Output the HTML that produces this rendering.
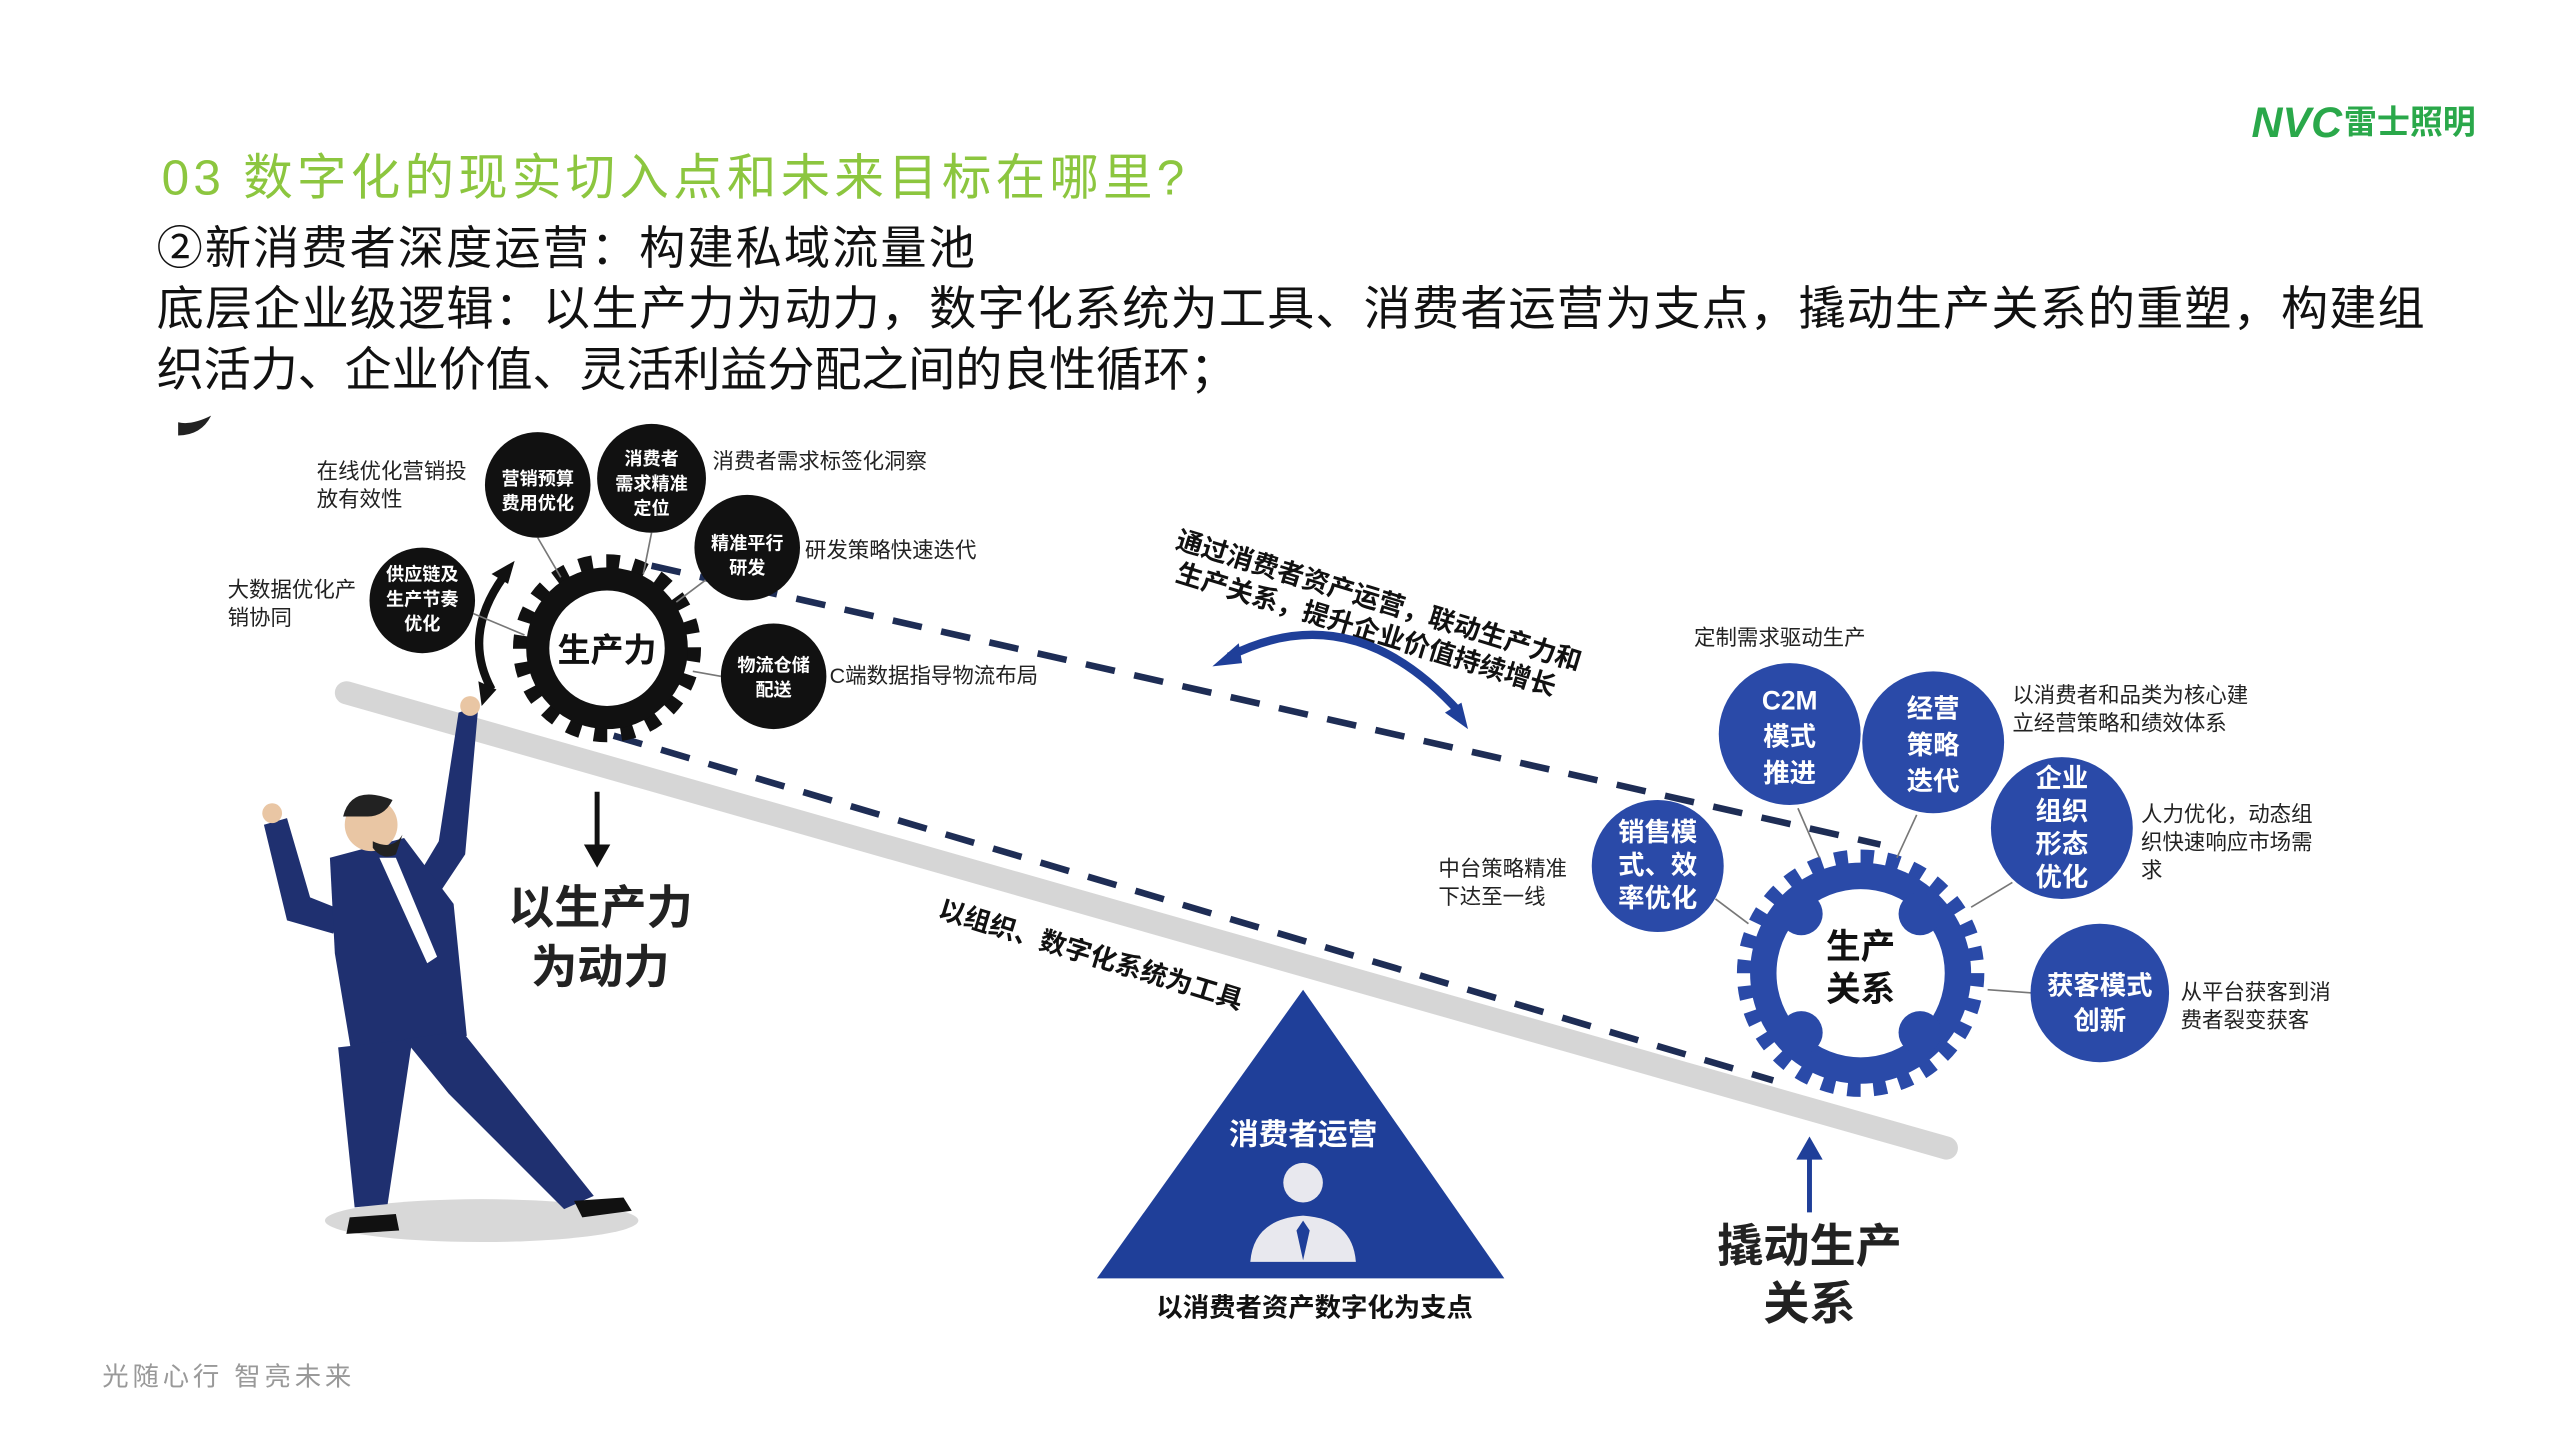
<!DOCTYPE html>
<html><head><meta charset="utf-8"><style>
html,body{margin:0;padding:0;background:#fff;width:2560px;height:1440px;overflow:hidden}
svg{display:block}
text{font-family:"Liberation Sans","Noto Sans CJK SC",sans-serif}
</style></head><body>
<svg width="2560" height="1440" viewBox="0 0 1552 873" xmlns="http://www.w3.org/2000/svg">
<rect width="1552" height="873" fill="#fff"/>
<!-- logo -->
<text x="1365" y="83" font-size="26" font-weight="bold" fill="#2aa84a" font-style="italic">NVC</text>
<text x="1421" y="81" font-size="20" font-weight="bold" fill="#2aa84a">雷士照明</text>
<!-- header text -->
<text x="98" y="118" font-size="30" fill="#8cc63f" textLength="620">03 数字化的现实切入点和未来目标在哪里?</text>
<text x="95" y="160" font-size="28" fill="#111" textLength="496">②新消费者深度运营：构建私域流量池</text>
<text x="95" y="197" font-size="28.6" fill="#111" textLength="1375">底层企业级逻辑：以生产力为动力，数字化系统为工具、消费者运营为支点，撬动生产关系的重塑，构建组</text>
<text x="95" y="234" font-size="28.6" fill="#111" textLength="655">织活力、企业价值、灵活利益分配之间的良性循环；</text>
<text x="62" y="840" font-size="16" fill="#999" textLength="151">光随心行  智亮未来</text>
<path d="M108 256 q8 2 20 -4 q-6 12 -20 12z" fill="#222"/>

<!-- beam -->
<line x1="210" y1="420" x2="1180" y2="696" stroke="#d6d6d6" stroke-width="14" stroke-linecap="round"/>
<!-- dashed -->
<line x1="395" y1="343" x2="1140" y2="512" stroke="#1e2d55" stroke-width="4" stroke-dasharray="18 12"/>
<line x1="372" y1="446" x2="1075" y2="655" stroke="#1e2d55" stroke-width="4" stroke-dasharray="18 12"/>

<!-- black gear -->
<g transform="translate(368,393)">
<circle r="52" fill="none" stroke="#111" stroke-width="10" stroke-dasharray="8 8.3"/>
<circle r="42" fill="#fff" stroke="#111" stroke-width="14"/>
<text y="8" font-size="20" font-weight="bold" text-anchor="middle" fill="#111">生产力</text>
</g>
<!-- curved arrow left -->
<path d="M305 350 Q280 385 298 418" fill="none" stroke="#111" stroke-width="5"/>
<path d="M312 340 l-14 8 l10 6z M292 428 l-2 -15 l11 5z" fill="#111"/>
<!-- connector lines -->
<g stroke="#777" stroke-width="1">
<line x1="326" y1="326" x2="340" y2="350"/><line x1="395" y1="323" x2="390" y2="348"/>
<line x1="430" y1="350" x2="410" y2="365"/><line x1="287" y1="372" x2="318" y2="385"/><line x1="437" y1="410" x2="420" y2="407"/>
</g>
<!-- black circles -->
<g fill="#111">
<circle cx="326" cy="294" r="32"/><circle cx="395" cy="290" r="33"/><circle cx="453" cy="332" r="32"/>
<circle cx="256" cy="364" r="32"/><circle cx="469" cy="410" r="32"/>
</g>
<g fill="#fff" font-size="11" font-weight="bold" text-anchor="middle">
<text x="326" y="294">营销预算</text><text x="326" y="309">费用优化</text>
<text x="395" y="282">消费者</text><text x="395" y="297">需求精准</text><text x="395" y="312">定位</text>
<text x="453" y="333">精准平行</text><text x="453" y="348">研发</text>
<text x="256" y="352">供应链及</text><text x="256" y="367">生产节奏</text><text x="256" y="382">优化</text>
<text x="469" y="407">物流仓储</text><text x="469" y="422">配送</text>
</g>
<g fill="#222" font-size="13">
<text x="192" y="290">在线优化营销投</text><text x="192" y="307">放有效性</text>
<text x="432" y="284">消费者需求标签化洞察</text>
<text x="488" y="338">研发策略快速迭代</text>
<text x="138" y="362">大数据优化产</text><text x="138" y="379">销协同</text>
<text x="503" y="414">C端数据指导物流布局</text>
</g>
<!-- down arrow -->
<line x1="362" y1="480" x2="362" y2="515" stroke="#111" stroke-width="3"/>
<path d="M354 512 l8 14 l8 -14z" fill="#111"/>
<g font-size="28" font-weight="bold" fill="#222" text-anchor="middle">
<text x="364" y="560">以生产力</text><text x="364" y="596">为动力</text>
</g>

<!-- rotated texts -->
<g font-size="16" font-weight="bold" fill="#111">
<text transform="translate(712,332) rotate(17)">通过消费者资产运营，联动生产力和</text>
<text transform="translate(712,352) rotate(17)">生产关系，提升企业价值持续增长</text>
<text transform="translate(568,556) rotate(17)">以组织、数字化系统为工具</text>
</g>
<!-- blue double arrow -->
<path d="M745 398 Q820 360 885 432" fill="none" stroke="#1f3f99" stroke-width="5"/>
<path d="M735 404 l16 -14 l2 12z M890 442 l-14 -10 l10 -6z" fill="#1f3f99"/>

<!-- triangle -->
<polygon points="790,600 665,775 912,775" fill="#1f3f99"/>
<text x="790" y="694" font-size="18" font-weight="bold" fill="#fff" text-anchor="middle">消费者运营</text>
<circle cx="790" cy="717" r="12" fill="#e8e8ee"/>
<path d="M758 765 q2 -26 32 -28 q30 2 32 28z" fill="#e8e8ee"/>
<path d="M790 740 l-4 6 l4 18 l4 -18z" fill="#1f3f99"/>
<text x="797" y="798" font-size="16" font-weight="bold" fill="#111" text-anchor="middle">以消费者资产数字化为支点</text>

<!-- up arrow -->
<line x1="1097" y1="735" x2="1097" y2="700" stroke="#1f3f99" stroke-width="3"/>
<path d="M1089 703 l8 -14 l8 14z" fill="#1f3f99"/>
<g font-size="28" font-weight="bold" fill="#222" text-anchor="middle">
<text x="1097" y="765">撬动生产</text><text x="1097" y="800">关系</text>
</g>

<!-- blue gear -->
<g transform="translate(1128,590)">
<circle r="70" fill="none" stroke="#2a4aa8" stroke-width="10" stroke-dasharray="8 7.7"/>
<circle r="59" fill="#fff" stroke="#2a4aa8" stroke-width="16"/>
<circle cx="36" cy="36" r="13" fill="#2a4aa8"/><circle cx="-36" cy="36" r="13" fill="#2a4aa8"/>
<circle cx="36" cy="-36" r="13" fill="#2a4aa8"/><circle cx="-36" cy="-36" r="13" fill="#2a4aa8"/>
<text y="-9" font-size="21" font-weight="bold" text-anchor="middle" fill="#111">生产</text>
<text y="17" font-size="21" font-weight="bold" text-anchor="middle" fill="#111">关系</text>
</g>
<g stroke="#777" stroke-width="1">
<line x1="1090" y1="490" x2="1103" y2="520"/><line x1="1162" y1="494" x2="1150" y2="520"/>
<line x1="1220" y1="535" x2="1195" y2="550"/><line x1="1040" y1="545" x2="1060" y2="560"/><line x1="1232" y1="602" x2="1205" y2="600"/>
</g>
<g fill="#2a4aa8">
<circle cx="1005" cy="525" r="40"/><circle cx="1085" cy="445" r="43"/><circle cx="1172" cy="450" r="43"/>
<circle cx="1250" cy="502" r="43"/><circle cx="1273" cy="602" r="42"/>
</g>
<g fill="#fff" font-size="16" font-weight="bold" text-anchor="middle">
<text x="1005" y="510">销售模</text><text x="1005" y="530">式、效</text><text x="1005" y="550">率优化</text>
<text x="1085" y="430">C2M</text><text x="1085" y="452">模式</text><text x="1085" y="474">推进</text>
<text x="1172" y="435">经营</text><text x="1172" y="457">策略</text><text x="1172" y="479">迭代</text>
<text x="1250" y="477">企业</text><text x="1250" y="497">组织</text><text x="1250" y="517">形态</text><text x="1250" y="537">优化</text>
<text x="1273" y="603">获客模式</text><text x="1273" y="624">创新</text>
</g>
<g fill="#222" font-size="13">
<text x="1027" y="391">定制需求驱动生产</text>
<text x="1220" y="426">以消费者和品类为核心建</text><text x="1220" y="443">立经营策略和绩效体系</text>
<text x="1298" y="498">人力优化，动态组</text><text x="1298" y="515">织快速响应市场需</text><text x="1298" y="532">求</text>
<text x="872" y="531">中台策略精准</text><text x="872" y="548">下达至一线</text>
<text x="1322" y="606">从平台获客到消</text><text x="1322" y="623">费者裂变获客</text>
</g>

<!-- person -->
<ellipse cx="292" cy="740" rx="95" ry="13" fill="#d8d8d8"/>
<g fill="#1f3070">
<path d="M278 432 l12 -4 l-8 90 l-20 30 l-14 -8 l18 -30z"/>
<path d="M160 500 l14 -4 l14 48 l20 8 l-6 14 l-28 -8z"/>
<path d="M200 520 l45 -12 l30 40 l8 80 l-70 10 l-10 -60z"/>
<path d="M205 635 l45 -5 l-15 100 l-20 2z"/>
<path d="M245 630 l35 -5 l80 100 l-18 8 l-70 -70z"/>
</g>
<path d="M212 738 l28 -2 l2 10 l-32 2z M348 728 l30 -2 l5 8 l-30 4z" fill="#111"/>
<circle cx="225" cy="500" r="16" fill="#e9c6a4"/>
<path d="M208 495 q5 -20 30 -10 q-5 10 -15 10z" fill="#222"/>
<path d="M226 510 q12 6 18 -4 l-4 12 q-8 4 -14 -4z" fill="#222"/>
<path d="M230 520 l10 0 l25 60 l-6 4z" fill="#fff"/>
<circle cx="285" cy="428" r="6" fill="#e9c6a4"/>
<circle cx="165" cy="493" r="6" fill="#e9c6a4"/>
</svg>
</body></html>
